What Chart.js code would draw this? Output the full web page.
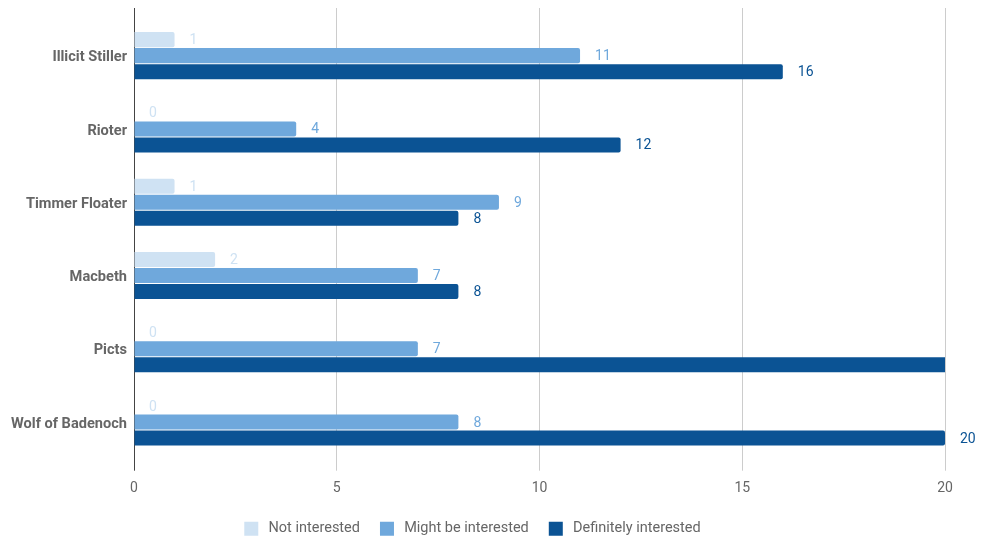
<!DOCTYPE html>
<html>
<head>
<meta charset="utf-8">
<script src="https://cdn.jsdelivr.net/npm/chart.js@4"></script>
<style>
  html, body { margin: 0; padding: 0; background: #fff; }
  #wrap { width: 981px; height: 540px; position: relative; }
</style>
</head>
<body>
<div id="wrap"><canvas id="bar-chart-interest"></canvas></div>
<script>
const categories = ['Illicit Stiller', 'Rioter', 'Timmer Floater', 'Macbeth', 'Picts', 'Wolf of Badenoch'];
const seriesNames = ['Not interested', 'Might be interested', 'Definitely interested'];
const notInterested = [1, 0, 1, 2, 0, 0];
const mightBeInterested = [11, 4, 9, 7, 7, 8];
const definitelyInterested = [16, 12, 8, 8, 21, 20];
const xTicks = [0, 5, 10, 15, 20];

const colors = ['#cfe2f3', '#6fa8dc', '#0b5394'];
const textGray = '#666666';

// values printed just past the bar end (not drawn if the bar runs off the axis)
const valueLabels = {
  id: 'valueLabels',
  afterDatasetsDraw(chart) {
    const { ctx } = chart;
    const xScale = chart.scales.x;
    ctx.save();
    ctx.font = '14px Roboto';
    ctx.textBaseline = 'middle';
    ctx.textAlign = 'left';
    chart.data.datasets.forEach((ds, i) => {
      const meta = chart.getDatasetMeta(i);
      meta.data.forEach((bar, j) => {
        const v = ds.data[j];
        if (v > xScale.max) return;
        ctx.fillStyle = colors[i];
        ctx.fillText(String(v), bar.x + 15, bar.y + 1);
      });
    });
    ctx.restore();
  }
};

const gridColor = c => (c.tick && c.tick.value === 0) ? '#444444' : '#cccccc';

new Chart(document.getElementById('bar-chart-interest').getContext('2d'), {
  type: 'bar',
  data: {
    labels: categories,
    datasets: [
      { label: seriesNames[0], data: notInterested, backgroundColor: colors[0] },
      { label: seriesNames[1], data: mightBeInterested, backgroundColor: colors[1] },
      { label: seriesNames[2], data: definitelyInterested, backgroundColor: colors[2] }
    ]
  },
  options: {
    indexAxis: 'y',
    responsive: true,
    maintainAspectRatio: false,
    animation: false,
    categoryPercentage: 0.656,
    barPercentage: 0.94,
    borderRadius: { topRight: 2, bottomRight: 2 },
    borderSkipped: 'start',
    layout: { padding: { top: 8, right: 36, left: 0, bottom: -6 } },
    scales: {
      x: {
        min: 0, max: 20,
        afterBuildTicks: s => { s.ticks = xTicks.map(v => ({ value: v })); },
        afterFit: s => { s.height = s.height - 4; },
        grid: { color: gridColor, lineWidth: 1, tickLength: 12 },
        border: { display: false },
        ticks: { font: { family: 'Roboto', size: 14 }, color: textGray, padding: 9 }
      },
      x2: {
        position: 'top',
        min: 0, max: 20,
        afterBuildTicks: s => { s.ticks = xTicks.map(v => ({ value: v })); },
        grid: { color: gridColor, drawOnChartArea: false, tickLength: 11 },
        border: { display: false },
        ticks: { display: false }
      },
      y: {
        grid: { display: false, drawTicks: false },
        border: { display: false },
        afterFit: s => { s.width = 134; },
        ticks: { font: { family: 'Roboto', size: 14.6, weight: 'bold' }, color: textGray, padding: 7, labelOffset: 2 }
      }
    },
    plugins: {
      legend: {
        position: 'bottom',
        labels: {
          font: { family: 'Roboto', size: 14.5 },
          color: textGray,
          boxWidth: 14,
          boxHeight: 14,
          padding: 20,
          generateLabels: chart => Chart.defaults.plugins.legend.labels.generateLabels(chart)
            .map(item => ({ ...item, text: '\u2009' + item.text }))
        }
      },
      tooltip: { enabled: false }
    }
  },
  plugins: [valueLabels]
});
</script>
</body>
</html>
